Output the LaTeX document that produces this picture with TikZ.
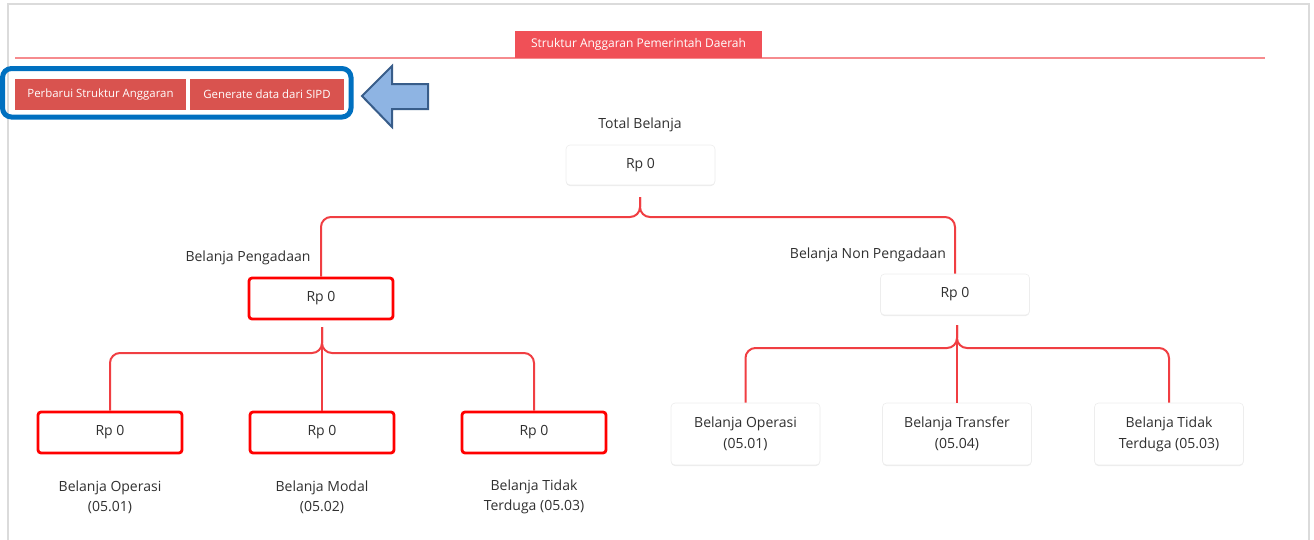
\documentclass[tikz,border=0pt]{standalone}
\usepackage{fontspec}
\setmainfont{Open Sans}
\usetikzlibrary{shadows}
\definecolor{linkred}{RGB}{240,62,66}
\definecolor{tabred}{RGB}{240,80,87}
\definecolor{btnred}{RGB}{217,83,79}
\definecolor{txtgray}{RGB}{48,48,48}
\definecolor{hiblue}{RGB}{0,112,192}
\definecolor{arrowfill}{RGB}{142,180,227}
\definecolor{arrowedge}{RGB}{56,93,138}
\begin{document}
\begin{tikzpicture}[x=1pt,y=1pt,yscale=-1,xscale=1,
    link/.style={draw=linkred,line width=2pt,rounded corners=10pt},
    lbl/.style={text=txtgray,font=\fontsize{14}{20}\selectfont,align=center},
    redbox/.style={draw=red,line width=2.8pt,rounded corners=3pt,fill=white,
        minimum width=144pt,minimum height=41pt,text=txtgray,font=\fontsize{14}{16}\selectfont},
    whitebox/.style={draw=black!7,line width=0.6pt,rounded corners=4pt,fill=white,
        drop shadow={shadow xshift=0pt,shadow yshift=-1pt,opacity=0.2,fill=black!40},
        minimum width=149pt,minimum height=40pt,text=txtgray,align=center,
        font=\fontsize{14}{21}\selectfont},
    btn/.style={fill=btnred,text=white,minimum height=31pt,inner sep=0pt,
        font=\fontsize{11.4}{13}\selectfont}]
\useasboundingbox (0,0) rectangle (1314,539);
% Frame
\draw[draw=black!14,line width=1.6pt] (8,545) -- (8,4) -- (1309,4) -- (1309,545);
% Separator
\draw[draw=linkred!60,line width=1.2pt] (15,58) -- (1265,58);
% Title tab
\node (title) [fill=tabred,text=white,minimum width=247pt,minimum height=27pt,inner sep=0pt,
    font=\fontsize{12}{14}\selectfont] at (638.5,44.5) {Struktur Anggaran Pemerintah Daerah};
% Buttons
\node (upd) [btn,minimum width=171pt] at (100.5,94.5) {Perbarui Struktur Anggaran};
\node (gen) [btn,minimum width=154pt] at (267,94.5) {Generate data dari SIPD};
% Highlight frame
\draw[draw=hiblue,line width=5pt,rounded corners=9pt] (2.5,68.5) rectangle (351,117);
% Block arrow
\draw[draw=arrowedge,fill=arrowfill,line width=2pt,line join=miter]
    (362,96) -- (392,66) -- (392,84) -- (428,84) -- (428,109) -- (392,109) -- (392,127) -- cycle;

% Total Belanja
\node (totlbl) [lbl] at (640,125) {Total Belanja};
\node (tot) [whitebox] at (640.5,165) {Rp 0};
% Level 1
\node (pgalbl) [lbl] at (248,258) {Belanja Pengadaan};
\node (pga) [redbox] at (321,298.5) {Rp 0};
\node (npglbl) [lbl] at (868,255) {Belanja Non Pengadaan};
\node (npg) [whitebox,minimum height=41pt] at (955,294.5) {Rp 0};
% Level 2, Pengadaan
\node (opr) [redbox] at (110,432.5) {Rp 0};
\node (mod) [redbox] at (322,432.5) {Rp 0};
\node (ttd) [redbox] at (534,432.5) {Rp 0};
\node (oprlbl) [lbl] at (110,497) {Belanja Operasi\\(05.01)};
\node (modlbl) [lbl] at (322,497) {Belanja Modal\\(05.02)};
\node (ttdlbl) [lbl] at (534,497) {Belanja Tidak\\Terduga (05.03)};
% Level 2, Non Pengadaan
\node (nopr) [whitebox,minimum height=62pt] at (745.5,434) {Belanja Operasi\\(05.01)};
\node (ntrf) [whitebox,minimum height=62pt] at (957,434) {Belanja Transfer\\(05.04)};
\node (nttd) [whitebox,minimum height=62pt] at (1169,434) {Belanja Tidak\\Terduga (05.03)};

% Connectors
\coordinate (tot-s) at (640,197);
\coordinate (tot-j) at (640,217);
\draw[link] (pga.north) |- (tot-j) -- (tot-s);
\draw[link] (npg.north) |- (tot-j) -- (tot-s);
\coordinate (pga-s) at (322,327);
\coordinate (pga-j) at (322,353);
\draw[link] (opr.north) |- (pga-j) -- (pga-s);
\draw[link] (ttd.north) |- (pga-j) -- (pga-s);
\draw[link] (mod.north) -- (pga-s);
\coordinate (npg-s) at (957,325);
\coordinate (npg-j) at (957,348);
\draw[link] (nopr.north) |- (npg-j) -- (npg-s);
\draw[link] (nttd.north) |- (npg-j) -- (npg-s);
\draw[link] (ntrf.north) -- (npg-s);
\end{tikzpicture}
\end{document}
